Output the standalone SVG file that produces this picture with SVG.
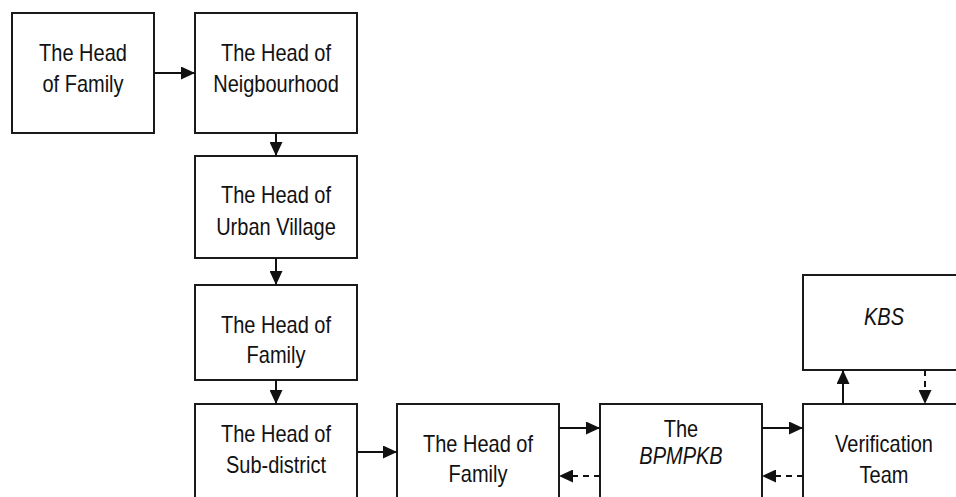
<svg xmlns="http://www.w3.org/2000/svg" width="956" height="497" viewBox="0 0 956 497">
<defs>
<style>
.box{fill:#fff;stroke:#1a1a1a;stroke-width:2}
.t{font-family:"Liberation Sans",Arial,sans-serif;font-size:20px;fill:#111;text-anchor:middle}
.i{font-style:italic}
.c{fill:none;stroke:#111;stroke-width:2}
.d{stroke-dasharray:6,5}
</style>
<marker id="ah" viewBox="0 0 14 13" refX="14" refY="6.5" markerWidth="14" markerHeight="13" markerUnits="userSpaceOnUse" orient="auto">
<path d="M0,0 L14,6.5 L0,13 Z" fill="#111"/>
</marker>
</defs>
<rect width="956" height="497" fill="#fff"/>
<g id="n1"><rect class="box" x="12" y="13" width="142" height="120"/><text class="t" transform="translate(83,61) scale(1,1.2)">The Head</text><text class="t" transform="translate(83,92) scale(1,1.2)">of Family</text></g>
<g id="n2"><rect class="box" x="195" y="13" width="162" height="120"/><text class="t" transform="translate(276,61) scale(1,1.2)">The Head of</text><text class="t" transform="translate(276,92) scale(1,1.2)">Neigbourhood</text></g>
<g id="n3"><rect class="box" x="195" y="156" width="162" height="102"/><text class="t" transform="translate(276,203) scale(1,1.2)">The Head of</text><text class="t" transform="translate(276,235) scale(1,1.2)">Urban Village</text></g>
<g id="n4"><rect class="box" x="195" y="285" width="162" height="95"/><text class="t" transform="translate(276,333) scale(1,1.2)">The Head of</text><text class="t" transform="translate(276,363) scale(1,1.2)">Family</text></g>
<g id="n5"><rect class="box" x="195" y="404" width="162" height="110"/><text class="t" transform="translate(276,442) scale(1,1.2)">The Head of</text><text class="t" transform="translate(276,473) scale(1,1.2)">Sub-district</text></g>
<g id="n6"><rect class="box" x="397" y="404" width="162" height="110"/><text class="t" transform="translate(478,452) scale(1,1.2)">The Head of</text><text class="t" transform="translate(478,482) scale(1,1.2)">Family</text></g>
<g id="n7"><rect class="box" x="600" y="404" width="162" height="110"/><text class="t" transform="translate(681,437) scale(1,1.2)">The</text><text class="t i" transform="translate(681,464) scale(1,1.2)">BPMPKB</text></g>
<g id="n8"><rect class="box" x="803" y="404" width="162" height="110"/><text class="t" transform="translate(884,452) scale(1,1.2)">Verification</text><text class="t" transform="translate(884,483) scale(1,1.2)">Team</text></g>
<g id="n9"><rect class="box" x="803" y="275" width="162" height="95"/><text class="t i" transform="translate(884,325) scale(1,1.2)">KBS</text></g>
<g id="connectors">
<line class="c" x1="154" y1="73" x2="195" y2="73" marker-end="url(#ah)"/>
<line class="c" x1="276" y1="133" x2="276" y2="156" marker-end="url(#ah)"/>
<line class="c" x1="276" y1="258" x2="276" y2="285" marker-end="url(#ah)"/>
<line class="c" x1="276" y1="380" x2="276" y2="404" marker-end="url(#ah)"/>
<line class="c" x1="357" y1="452" x2="397" y2="452" marker-end="url(#ah)"/>
<line class="c" x1="559" y1="428" x2="600" y2="428" marker-end="url(#ah)"/>
<line class="c d" x1="600" y1="476" x2="559" y2="476" marker-end="url(#ah)"/>
<line class="c" x1="762" y1="428" x2="803" y2="428" marker-end="url(#ah)"/>
<line class="c d" x1="803" y1="476" x2="762" y2="476" marker-end="url(#ah)"/>
<line class="c" x1="843" y1="404" x2="843" y2="370" marker-end="url(#ah)"/>
<line class="c d" x1="925" y1="370" x2="925" y2="404" marker-end="url(#ah)"/>
</g>
</svg>
